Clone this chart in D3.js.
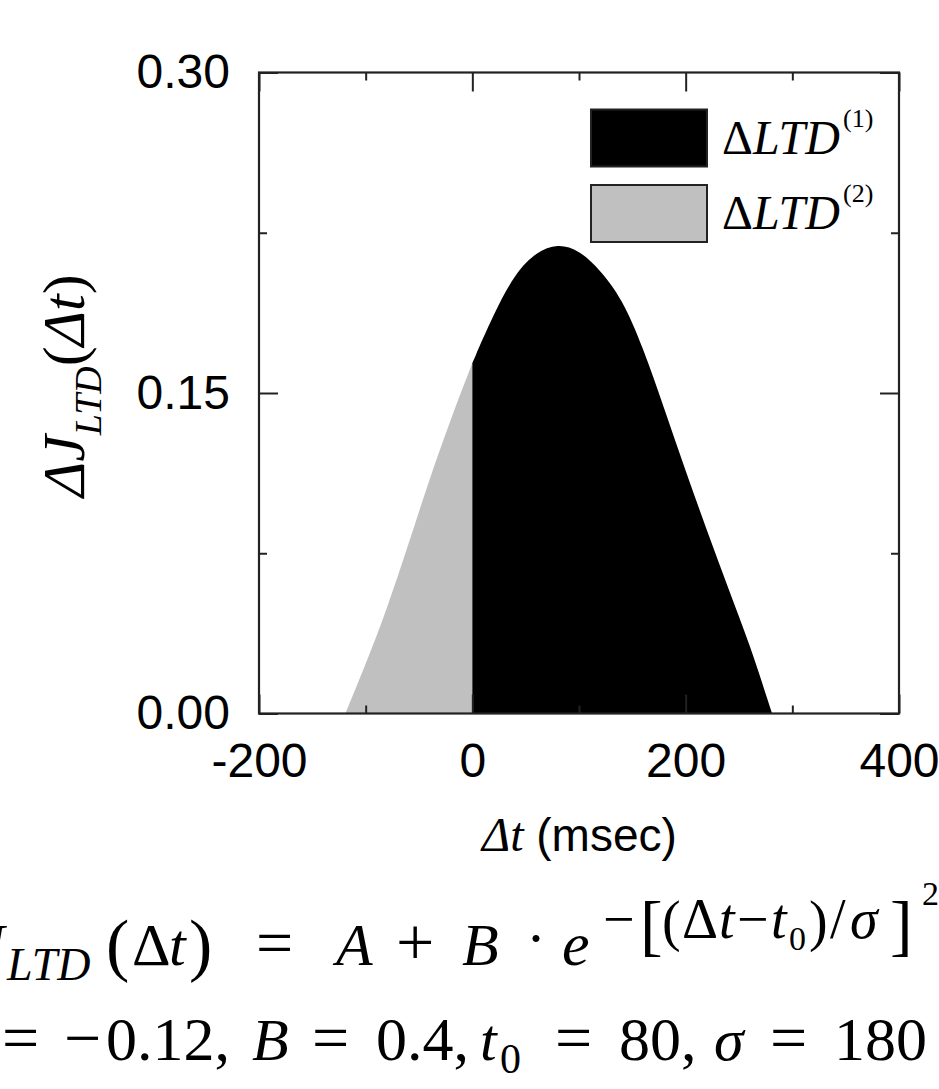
<!DOCTYPE html>
<html><head><meta charset="utf-8">
<script src="https://cdn.jsdelivr.net/npm/d3@7"></script>
<style>html,body{margin:0;padding:0;background:#fff;} svg{display:block;}</style>
</head><body>
<svg id="c" width="939" height="1089"></svg>
<script>
// ---- data ----
const dt = [-119, -100, -80, -60, -40, -20, 0, 20, 40, 60, 80, 100, 120, 140, 160, 180, 200, 220, 240, 260, 281];
const dJ = [0, 0.023, 0.049, 0.079, 0.110, 0.138, 0.164, 0.187, 0.206, 0.216, 0.220, 0.217, 0.2075, 0.1945, 0.1715, 0.1425, 0.1135, 0.0855, 0.0585, 0.0325, 0];
const xMajorTicks = [-200, 0, 200, 400];
const xTickLabels = ["-200", "0", "200", "400"];
const xMinorTicks = [-100, 100, 300];
const yMajorTicks = [0, 0.15, 0.30];
const yTickLabels = ["0.00", "0.15", "0.30"];
const yMinorTicks = [0.075, 0.225];
const seriesNames = ["ΔLTD", "ΔLTD"];
const seriesSup = ["(1)", "(2)"];
const seriesColors = ["#000000", "#c0c0c0"];

const svg = d3.select("#c");
const SERIF = "'Liberation Serif','Times New Roman',serif";
const SANS = "'Liberation Sans',Arial,sans-serif";
const x = d3.scaleLinear().domain([-200, 400]).range([259, 899]);
const y = d3.scaleLinear().domain([0, 0.30]).range([713.5, 72.5]);

const pts = dt.map((t, i) => ({t, v: dJ[i]}));
const area = d3.area().x(d => x(d.t)).y0(y(0)).y1(d => y(d.v)).curve(d3.curveBasis);
svg.append("path").datum(pts.filter(d => d.t <= 0)).attr("d", area).attr("fill", seriesColors[1]);
svg.append("path").datum(pts.filter(d => d.t >= 0)).attr("d", area).attr("fill", seriesColors[0]);

// ---- axes ----
const axStroke = "#222";
function styleAxis(g) {
  g.select(".domain").remove();
  g.selectAll(".tick line").attr("stroke", axStroke).attr("stroke-width", 2);
  g.selectAll("text").attr("font-family", SANS).attr("font-size", 48).attr("fill", "#000");
}
const MAJ = 19, MIN = 8, PAD = 29;
svg.append("g").attr("transform", `translate(0,${y(0)})`)
  .call(d3.axisBottom(x).tickValues(xMajorTicks).tickSize(-MAJ).tickPadding(PAD).tickFormat((d, i) => xTickLabels[i])).call(styleAxis);
svg.append("g").attr("transform", `translate(0,${y(0)})`)
  .call(d3.axisBottom(x).tickValues(xMinorTicks).tickSize(-MIN).tickFormat("")).call(styleAxis);
svg.append("g").attr("transform", `translate(0,${y(0.30)})`)
  .call(d3.axisTop(x).tickValues(xMajorTicks).tickSize(-MAJ).tickFormat("")).call(styleAxis);
svg.append("g").attr("transform", `translate(0,${y(0.30)})`)
  .call(d3.axisTop(x).tickValues(xMinorTicks).tickSize(-MIN).tickFormat("")).call(styleAxis);
svg.append("g").attr("transform", `translate(${x(-200)},0)`)
  .call(d3.axisLeft(y).tickValues(yMajorTicks).tickSize(-MAJ).tickPadding(PAD).tickFormat((d, i) => yTickLabels[i])).call(styleAxis);
svg.append("g").attr("transform", `translate(${x(-200)},0)`)
  .call(d3.axisLeft(y).tickValues(yMinorTicks).tickSize(-MIN).tickFormat("")).call(styleAxis);
svg.append("g").attr("transform", `translate(${x(400)},0)`)
  .call(d3.axisRight(y).tickValues(yMajorTicks).tickSize(-MAJ).tickFormat("")).call(styleAxis);
svg.append("g").attr("transform", `translate(${x(400)},0)`)
  .call(d3.axisRight(y).tickValues(yMinorTicks).tickSize(-MIN).tickFormat("")).call(styleAxis);

svg.append("rect").attr("x", x(-200)).attr("y", y(0.30)).attr("width", x(400) - x(-200)).attr("height", y(0) - y(0.30))
  .attr("fill", "none").attr("stroke", axStroke).attr("stroke-width", 2.2);

// ---- legend ----
const legY = [109.5, 185];
const leg = svg.append("g");
seriesNames.forEach((name, i) => {
  leg.append("rect").attr("x", 591).attr("y", legY[i]).attr("width", 116).attr("height", 57)
    .attr("fill", seriesColors[i]).attr("stroke", "#222").attr("stroke-width", 2);
  const t = leg.append("text").attr("x", 722).attr("y", legY[i] + 44).attr("font-family", SERIF).attr("font-size", 48).attr("fill", "#000");
  t.append("tspan").text(name.slice(0, 1));
  t.append("tspan").attr("font-style", "italic").text(name.slice(1));
  t.append("tspan").attr("font-size", 26).attr("dy", -27).attr("dx", 3).text(seriesSup[i]);
});

// ---- axis titles ----
const yt = svg.append("text").attr("transform", "translate(84,497) rotate(-90)")
  .attr("font-family", SERIF).attr("font-size", 60).attr("fill", "#000");
yt.append("tspan").attr("font-style", "italic").text("ΔJ");
yt.append("tspan").attr("font-style", "italic").attr("font-size", 38).attr("dy", 17).text("LTD");
yt.append("tspan").attr("dy", -17).text("(");
yt.append("tspan").attr("font-style", "italic").text("Δt");
yt.append("tspan").text(")");

const xt = svg.append("text").attr("x", 482).attr("y", 851).attr("fill", "#000");
xt.append("tspan").attr("font-family", SERIF).attr("font-style", "italic").attr("font-size", 48).text("Δt");
xt.append("tspan").attr("font-family", SANS).attr("font-size", 46).text(" (msec)");

// ---- formula below the chart ----
const eq1 = [
  {s: "J", x: -22, y: 965, f: 60, i: true},
  {s: "LTD", x: 7, y: 980, f: 46, i: true},
  {s: "(", x: 106, y: 968, f: 70},
  {s: "Δ", x: 132, y: 965, f: 60},
  {s: "t", x: 169, y: 965, f: 60, i: true},
  {s: ")", x: 189, y: 968, f: 70},
  {s: "=", x: 256, y: 965, f: 66},
  {s: "A", x: 336, y: 965, f: 60, i: true},
  {s: "+", x: 396, y: 965, f: 68},
  {s: "B", x: 462, y: 965, f: 60, i: true},
  {s: "·", x: 526, y: 958, f: 60},
  {s: "e", x: 562, y: 965, f: 62, i: true},
  {s: "−", x: 603, y: 938, f: 56},
  {s: "[", x: 640, y: 948, f: 68},
  {s: "(", x: 662, y: 940, f: 56},
  {s: "Δ", x: 682, y: 938, f: 56},
  {s: "t", x: 719, y: 938, f: 56, i: true},
  {s: "−", x: 737, y: 938, f: 56},
  {s: "t", x: 771, y: 938, f: 56, i: true},
  {s: "0", x: 789, y: 950, f: 34},
  {s: ")", x: 809, y: 940, f: 56},
  {s: "/", x: 830, y: 938, f: 56},
  {s: "σ", x: 850, y: 938, f: 56, i: true},
  {s: "]", x: 890, y: 948, f: 68},
  {s: "2", x: 922, y: 905, f: 34}
];
const eq2 = [
  {s: "=", x: 2, y: 1060, f: 66},
  {s: "−", x: 64, y: 1060, f: 66},
  {s: "0.12,", x: 106, y: 1060, f: 62},
  {s: "B", x: 252, y: 1060, f: 60, i: true},
  {s: "=", x: 312, y: 1060, f: 66},
  {s: "0.4,", x: 376, y: 1060, f: 62},
  {s: "t", x: 480, y: 1060, f: 60, i: true},
  {s: "0", x: 500, y: 1073, f: 42},
  {s: "=", x: 555, y: 1060, f: 66},
  {s: "80,", x: 619, y: 1060, f: 62},
  {s: "σ", x: 714, y: 1060, f: 60, i: true},
  {s: "=", x: 770, y: 1060, f: 66},
  {s: "180", x: 834, y: 1060, f: 62}
];
svg.append("g").selectAll("text").data(eq1.concat(eq2)).join("text")
  .attr("x", d => d.x).attr("y", d => d.y).attr("font-size", d => d.f)
  .attr("font-style", d => d.i ? "italic" : "normal")
  .attr("font-family", SERIF).attr("fill", "#000").text(d => d.s);
</script>
</body></html>
